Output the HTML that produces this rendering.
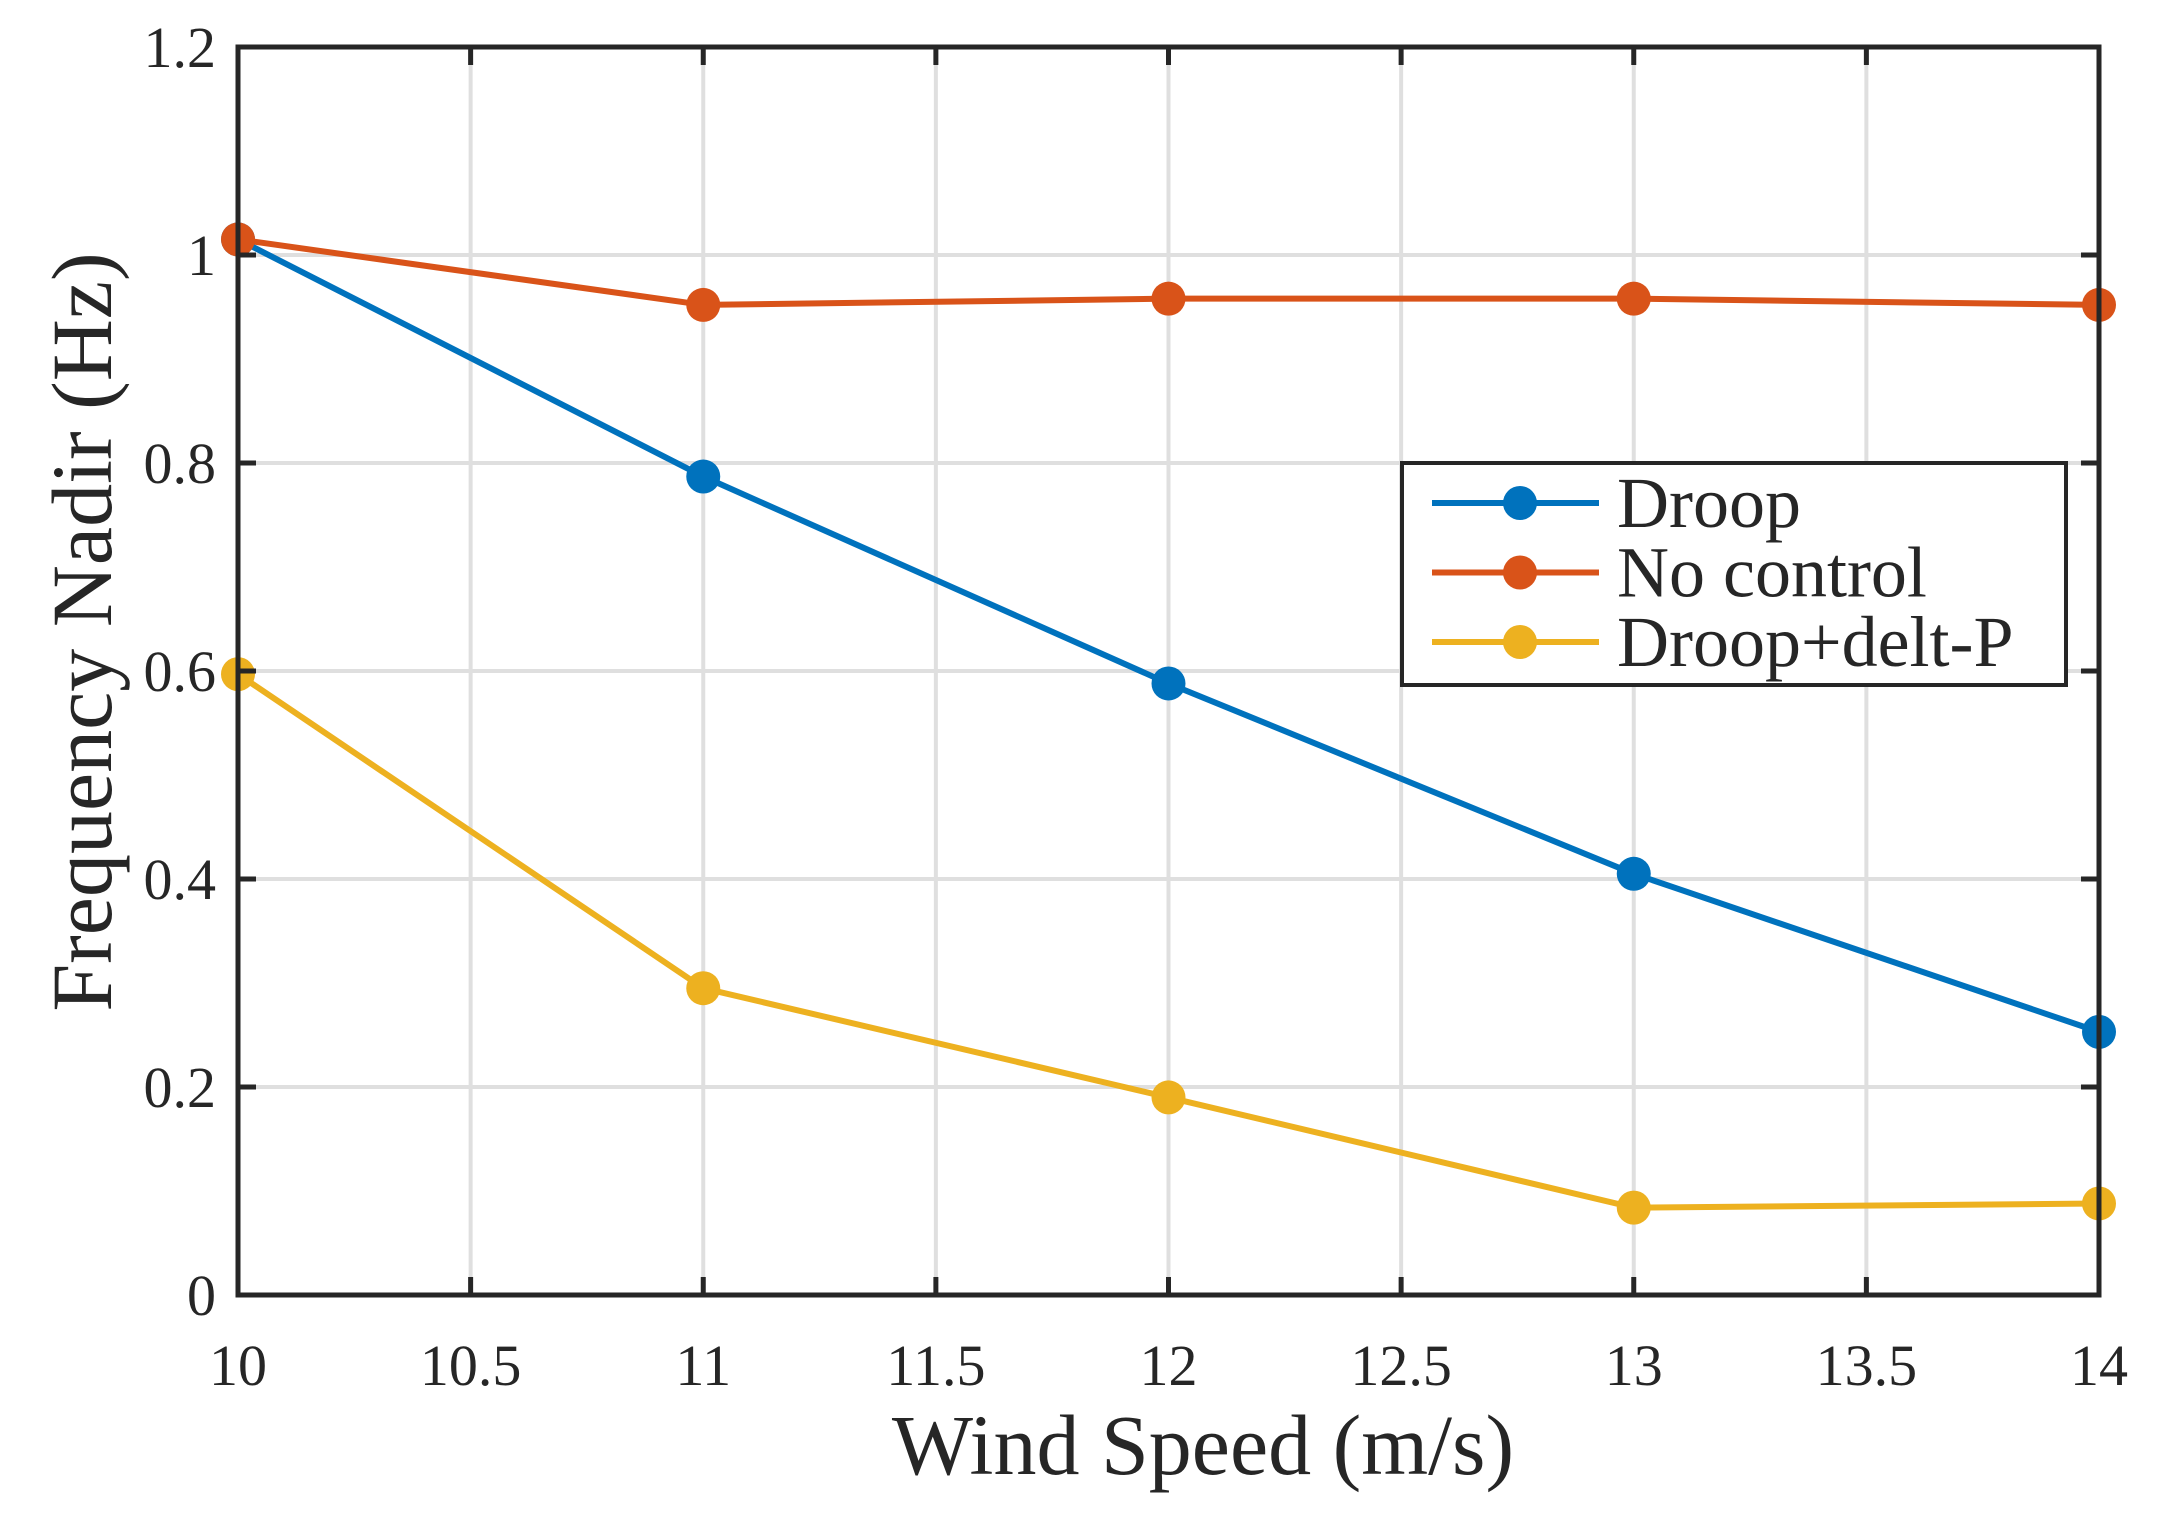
<!DOCTYPE html>
<html><head><meta charset="utf-8"><style>body{margin:0;background:#fff}svg{display:block}text{font-family:"Liberation Serif",serif;fill:#262626}</style></head>
<body>
<svg id="chart" width="2169" height="1515" xmlns="http://www.w3.org/2000/svg">
<g id="grid"></g><g id="series"></g><g id="axes"></g>
</svg>
<script>
const categories=[10,11,12,13,14];
const droop=[1.015,0.787,0.588,0.405,0.253];
const noControl=[1.015,0.952,0.958,0.958,0.952];
const droopDeltP=[0.597,0.295,0.19,0.084,0.088];
const xTicks=[10,10.5,11,11.5,12,12.5,13,13.5,14];
const yTicks=[0,0.2,0.4,0.6,0.8,1,1.2];
const seriesNames=["Droop","No control","Droop+delt-P"];

const L=238,R=2099,T=47,B=1295;
const xs=v=>L+(v-10)/4*(R-L);
const ys=v=>B-v/1.2*(B-T);
const NS="http://www.w3.org/2000/svg";
function mk(tag,attrs,parent){const e=document.createElementNS(NS,tag);for(const k in attrs)e.setAttribute(k,attrs[k]);parent.appendChild(e);return e;}
const grid=document.getElementById('grid'),ser=document.getElementById('series'),ax=document.getElementById('axes');
xTicks.forEach(t=>{const x=xs(t);
 let g=mk('line',{x1:x,x2:x,y1:T,y2:B,stroke:'#dfdfdf','stroke-width':4},grid);
 
 
 mk('line',{x1:x,x2:x,y1:B,y2:B-18,stroke:'#262626','stroke-width':5},ax);
 mk('line',{x1:x,x2:x,y1:T,y2:T+18,stroke:'#262626','stroke-width':5},ax);
 let tx=mk('text',{x:x,y:1385,'text-anchor':'middle','font-size':58},ax);tx.textContent=t;
 
 
});
yTicks.forEach(t=>{const y=ys(t);
 let g=mk('line',{x1:L,x2:R,y1:y,y2:y,stroke:'#dfdfdf','stroke-width':4},grid);
 
 
 mk('line',{x1:L,x2:L+18,y1:y,y2:y,stroke:'#262626','stroke-width':5},ax);
 mk('line',{x1:R,x2:R-18,y1:y,y2:y,stroke:'#262626','stroke-width':5},ax);
 let tx=mk('text',{x:216,y:y+20,'text-anchor':'end','font-size':58},ax);tx.textContent=t;
 
 
});
let fr=mk('rect',{x:L,y:T,width:R-L,height:B-T,fill:'none',stroke:'#262626','stroke-width':5},ax);


let xt=mk('text',{x:1203,y:1474,'text-anchor':'middle','font-size':86},ax);xt.textContent='Wind Speed (m/s)';


let yt=mk('text',{x:0,y:0,'text-anchor':'middle','font-size':86,transform:'translate(111,632) rotate(-90)'},ax);yt.textContent='Frequency Nadir (Hz)';


const colors=['#0072BD','#D95319','#EDB120'];
const all=[droop,noControl,droopDeltP];
const names=['droop-series','no-control-series','droop-delt-p-series'];
[2,0,1].forEach(i=>{const d=all[i];
 let p=mk('polyline',{points:d.map((v,j)=>xs(categories[j])+','+ys(v)).join(' '),fill:'none',stroke:colors[i],'stroke-width':6},ser);
 
 
 d.forEach((v,j)=>{let c=mk('circle',{cx:xs(categories[j]),cy:ys(v),r:17,fill:colors[i]},ser);
  
  });
});
let lg=mk('g',{},ax);


mk('rect',{x:1402,y:463,width:664,height:222,fill:'#fff',stroke:'#262626','stroke-width':4},lg);
seriesNames.forEach((n,i)=>{const y=503+i*69.5;
 let e=mk('g',{},lg);
 
 
 mk('line',{x1:1432,x2:1599,y1:y,y2:y,stroke:colors[i],'stroke-width':6},e);
 mk('circle',{cx:1520,cy:y,r:17,fill:colors[i]},e);
 let t=mk('text',{x:1617,y:y+24,'font-size':72},e);t.textContent=n;
});
</script>
</body></html>
